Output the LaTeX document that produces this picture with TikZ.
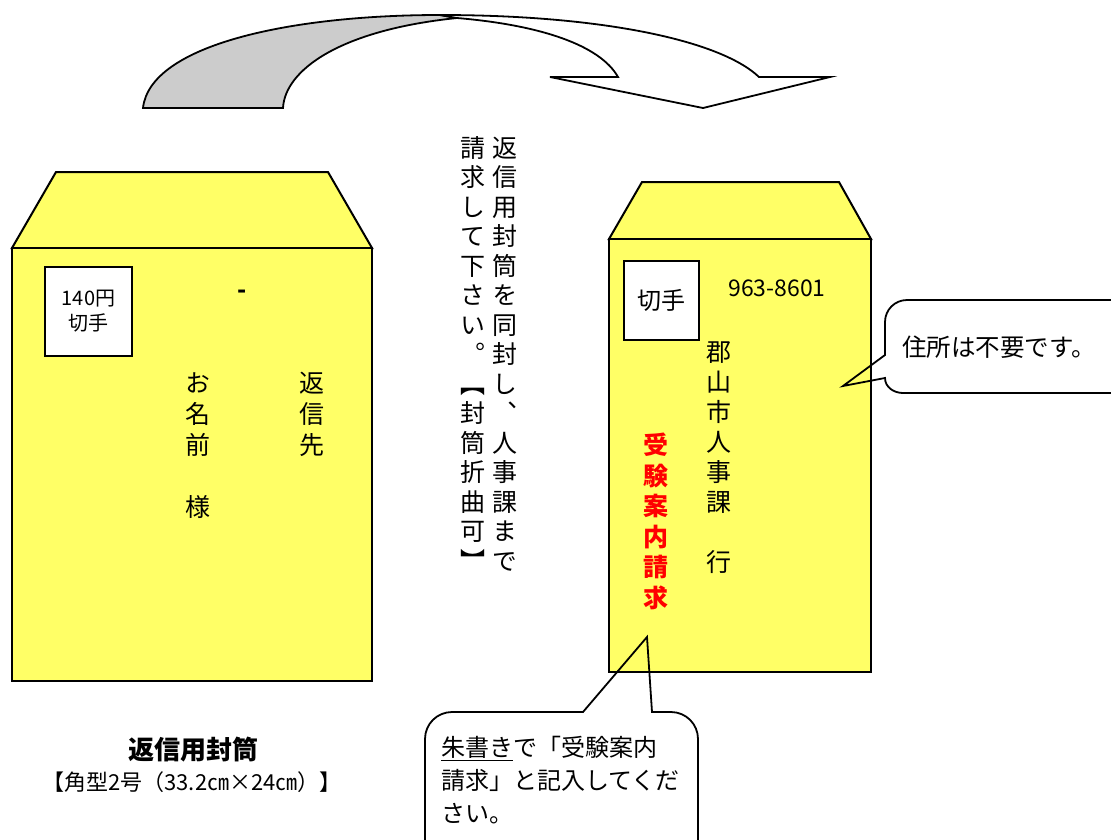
\documentclass[tikz,border=0pt]{standalone}
\usepackage{fontspec}
\setmainfont{Noto Sans CJK JP}
\newfontfamily\tatefont[Script=CJK,RawFeature=+vert]{Noto Sans CJK JP}
\definecolor{env_yellow}{RGB}{255, 255, 102}
\definecolor{arr_grey}{RGB}{204, 204, 204}
\tikzstyle{env}=[fill=env_yellow,draw=black,line width=2pt]
\tikzstyle{stamp}=[rectangle,fill=white,draw=black,line width=1.8pt,
  inner sep=0pt,align=center]
\tikzstyle{callout}=[draw=black,line width=1.8pt]
\tikzstyle{arr}=[draw=black,line width=1.8pt]
\makeatletter
\newcommand\tate[2][30pt]{\vbox{\offinterlineskip\tatefont
  \@tfor\tate@c:=#2\do{\hbox to 1em{\hss\vbox to #1{\vss
    \hbox{\tate@c\vrule height .88em depth .12em width 0pt}\vss}\hss}}}}
\makeatother

\begin{document}
\begin{tikzpicture}[x=1pt,y=-1pt]
    \useasboundingbox (0,0) rectangle (1111,839);
    \draw [style=arr,fill=arr_grey] (143,108) .. controls (150,45) and (290,15) .. (440,15)
      -- (457,18) .. controls (340,30) and (285,70) .. (283,108) -- cycle;
    \draw [style=arr,fill=white] (440,15) .. controls (600,15) and (720,40) .. (759,77)
      -- (830,77) -- (703,108) -- (550,77) -- (618,77)
      .. controls (600,45) and (540,25) .. (457,18) -- cycle;
    \draw [style=env] (12,248) -- (56,172) -- (328,172) -- (372,248) -- cycle;
    \draw [style=env] (12,248) rectangle (372,681);
    \node [style=stamp,minimum width=87pt,minimum height=89pt,
      font=\fontsize{20}{25}\selectfont] (stampL) at (88.5,311.5) {140円\\切手};
    \node [font=\fontsize{24}{28}\selectfont\bfseries] (dash) at (242,294) {-};
    \node [anchor=north,inner sep=0pt,font=\fontsize{25}{30}\selectfont]
      (nameL) at (198,367.5) {\tate[31pt]{お名前{　}様}};
    \node [anchor=north,inner sep=0pt,font=\fontsize{25}{30}\selectfont]
      (toL) at (312,367.5) {\tate[31pt]{返信先}};
    \node [font=\fontsize{26}{30}\selectfont\bfseries] (title) at (193,750) {返信用封筒};
    \node [font=\fontsize{22}{26}\selectfont] (size) at (192,782) {【角型2号（33.2㎝×24㎝）】};
    \node [anchor=north,inner sep=0pt,font=\fontsize{25}{30}\selectfont]
      (noteA) at (505,133) {\tate[29.5pt]{返信用封筒を同封し、人事課まで}};
    \node [anchor=north,inner sep=0pt,font=\fontsize{25}{30}\selectfont]
      (noteB) at (473,133) {\tate[29.5pt]{請求して下さい。【封筒折曲可】}};
    \draw [style=env] (609,239) -- (642,182) -- (839,182) -- (871,239) -- cycle;
    \draw [style=env] (609,239) rectangle (871,672);
    \node [style=stamp,minimum width=75pt,minimum height=79pt,
      font=\fontsize{24}{28}\selectfont] (stampR) at (661.5,300.5) {切手};
    \node [font=\fontsize{23}{26}\selectfont] (zip) at (777,288) {963-8601};
    \node [anchor=north,inner sep=0pt,font=\fontsize{25}{30}\selectfont]
      (toR) at (719,337) {\tate[30pt]{郡山市人事課{　}行}};
    \node [anchor=north,inner sep=0pt,text=red,font=\fontsize{25}{30}\selectfont\bfseries]
      (red) at (656,430) {\tate[30.5pt]{受験案内請求}};
    \coordinate (tipA) at (843,386);
    \draw [style=callout] (tipA) -- (885,378) to[out=-90,in=180] (903,393) -- (1140,393)
      -- (1140,300) -- (907,300) to[out=180,in=90] (885,322) -- (885,355) -- cycle;
    \node [anchor=west,inner sep=0pt,font=\fontsize{24.5}{28}\selectfont]
      (noAddr) at (902,347) {住所は不要です。};
    \coordinate (tipB) at (647,637);
    \draw [style=callout] (tipB) -- (652,712) -- (671,712) to[out=0,in=90] (698,739)
      -- (698,870) -- (425,870) -- (425,739) to[out=90,in=180] (452,712) -- (583,712) -- cycle;
    \node [anchor=north west,inner sep=0pt,align=left,font=\fontsize{24}{33}\selectfont]
      (redNote) at (441,736) {\underline{朱書き}で「受験案内\\請求」と記入してくだ\\さい。};
\end{tikzpicture}
\end{document}
